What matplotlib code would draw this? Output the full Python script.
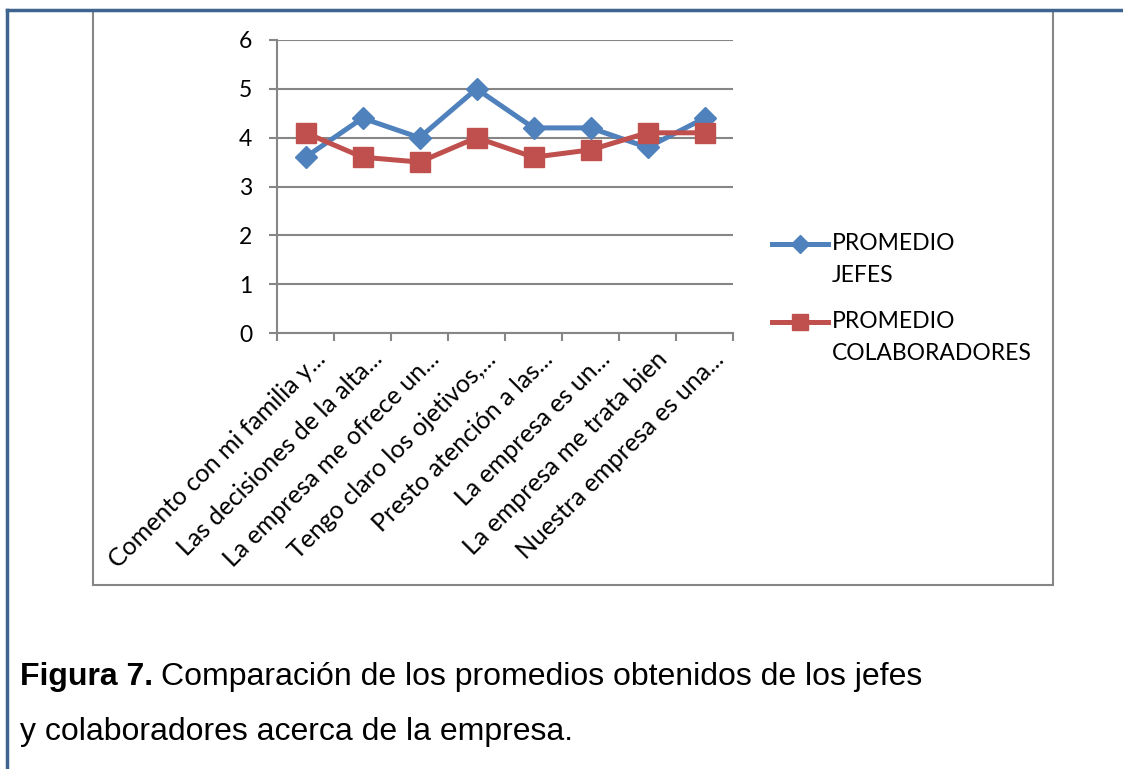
import matplotlib
matplotlib.use("Agg")
import numpy as np
from matplotlib import pyplot as plt
from matplotlib.lines import Line2D
from matplotlib.patches import Rectangle
from matplotlib.legend_handler import HandlerLine2D
import matplotlib.transforms as mtransforms

# data
categories = [
    "Comento con mi familia y...",
    "Las decisiones de la alta...",
    "La empresa me ofrece un...",
    "Tengo claro los ojetivos,...",
    "Presto atención a las...",
    "La empresa es un...",
    "La empresa me trata bien",
    "Nuestra empresa es una...",
]
promedio_jefes = [3.6, 4.4, 4.0, 5.0, 4.2, 4.2, 3.8, 4.4]
promedio_colab = [4.1, 3.6, 3.5, 4.0, 3.6, 3.75, 4.1, 4.1]
series_labels = ["PROMEDIO\nJEFES", "PROMEDIO\nCOLABORADORES"]
y_ticks = [0, 1, 2, 3, 4, 5, 6]

blue = "#4F81BD"
red = "#C0504D"
grid_col = "#868686"
frame_col = "#3F6490"

W, H = 1123, 769


class FirstLineHandler(HandlerLine2D):
    # put the legend key level with the first line of a two-line label
    shift = 11.5

    def create_artists(self, legend, orig_handle, xdescent, ydescent,
                       width, height, fontsize, trans):
        arts = super().create_artists(legend, orig_handle, xdescent, ydescent,
                                      width, height, fontsize, trans)
        for a in arts:
            a.set_ydata(np.asarray(a.get_ydata()) + self.shift)
        return arts


fig = plt.figure(figsize=(W / 100, H / 100), dpi=100)

# outer document frame and chart border
fig.add_artist(Rectangle((93 / W, 1 - 585 / H), (1053 - 93) / W, (585 - 11) / H,
                         transform=fig.transFigure, fill=False, ec=grid_col, lw=1.5))
fig.add_artist(Line2D([7 / W, 7 / W], [0, 1 - 10 / H], transform=fig.transFigure,
                      color=frame_col, lw=2.5))
fig.add_artist(Line2D([7 / W, 1], [1 - 10 / H, 1 - 10 / H], transform=fig.transFigure,
                      color=frame_col, lw=2.5))

ax = fig.add_axes([277 / W, 1 - 333 / H, (733 - 277) / W, (333 - 40) / H])

x = np.arange(len(categories))
ax.plot(x, promedio_jefes, color=blue, lw=3.6, marker="D", markersize=11,
        label=series_labels[0], zorder=3)
ax.plot(x, promedio_colab, color=red, lw=3.6, marker="s", markersize=15,
        label=series_labels[1], zorder=3)

ax.set_xlim(-0.5, len(categories) - 0.5)
ax.set_ylim(0, 6)
ax.set_yticks(y_ticks)
ax.yaxis.grid(True, color=grid_col, lw=1.5)
ax.set_axisbelow(True)

for s in ["top", "right"]:
    ax.spines[s].set_visible(False)
ax.spines["left"].set_color(grid_col)
ax.spines["bottom"].set_color(grid_col)
ax.spines["left"].set_linewidth(1.5)
ax.spines["bottom"].set_linewidth(1.5)

ax.tick_params(axis="y", length=6, width=1.5, color=grid_col, labelsize=16.5, pad=12)
ax.set_yticklabels([str(v) for v in y_ticks], fontfamily="Lato")

# category ticks sit between points, labels centred on points
ax.set_xticks(np.arange(-0.5, len(categories), 1.0))
ax.set_xticklabels([])
ax.tick_params(axis="x", which="major", length=6, width=1.5, color=grid_col)
ax.set_xticks(x, minor=True)
ax.set_xticklabels(categories, minor=True, rotation=45, ha="right", va="center",
                   rotation_mode="anchor", fontsize=18, fontfamily="Lato")
ax.tick_params(axis="x", which="minor", length=0, pad=16)
offset = mtransforms.ScaledTranslation(0.16, 0, fig.dpi_scale_trans)
for lab in ax.get_xticklabels(minor=True):
    lab.set_transform(lab.get_transform() + offset)

leg = ax.legend(loc="upper left", bbox_to_anchor=(772 / W, 1 - 233 / H),
                bbox_transform=fig.transFigure, frameon=False,
                prop={"family": "Lato", "size": 16.5}, handlelength=2.45,
                handletextpad=0.17, labelspacing=1.1, borderpad=0, borderaxespad=0,
                markerscale=0.8, handler_map={Line2D: FirstLineHandler()})
for t in leg.get_texts():
    t.set_linespacing(1.65)

fig.text(20 / W, 1 - 685 / H, "Figura 7.", fontsize=23, fontweight="bold",
         fontfamily="Liberation Sans", va="baseline")
fig.text(161 / W, 1 - 685 / H, "Comparación de los promedios obtenidos de los jefes",
         fontsize=23, fontfamily="Liberation Sans", va="baseline")
fig.text(20 / W, 1 - 740 / H, "y colaboradores acerca de la empresa.",
         fontsize=23, fontfamily="Liberation Sans", va="baseline")

fig.savefig("out.png", dpi=100)
